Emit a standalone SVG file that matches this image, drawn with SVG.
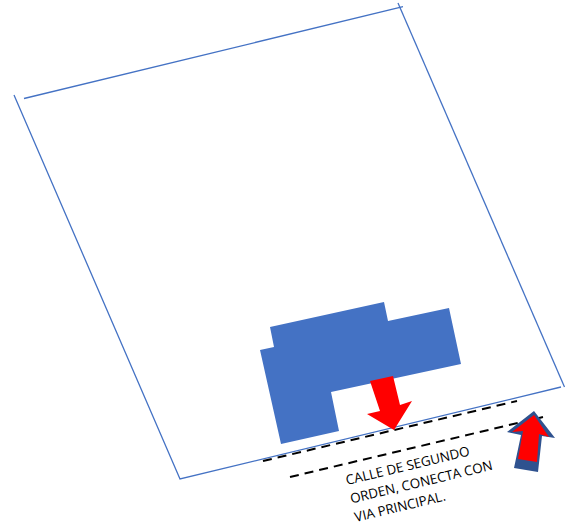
<svg xmlns="http://www.w3.org/2000/svg" width="568" height="526" viewBox="0 0 568 526">
<style>
.lot{fill:none;stroke:#4472c4;stroke-width:1.3}
.road{fill:none;stroke:#000;stroke-width:2;stroke-dasharray:9 6}
.label{font-family:"Open Sans",sans-serif;font-size:13.4px;fill:#000}
</style>
<rect width="568" height="526" fill="#fff"/>
<g id="connectors">
<path class="lot" d="M24 98.500L403 6.700"/>
<path class="lot" d="M398 3L564.500 387"/>
<path class="lot" d="M14 95L180 479L561 387"/>
<path class="road" d="M263 461L517 401"/>
<path class="road" d="M290 477L543 417"/>
</g>
<g id="building">
<polygon fill="#4472c4" points="270,327 384,302 388,321 449,308 461,364 331,392 339,431 281,444 260,350 274,347"/>
</g>
<g id="arrow-salida">
<polygon fill="#f00" points="370,381 393,376 400,405 412,401 394,430 367,414 380,411"/>
</g>
<g id="arrow-acceso">
<polygon fill="#2f528f" points="534,411 555,438 542,436 538,472 514,468 521,435 507,432"/>
<polygon fill="#f00" points="534,415 549,437 539,434 537,462 518,459 523,431 512,432"/>
</g>
<g id="label" class="label" transform="rotate(-13.500 347 485)">
<text x="347" y="485">CALLE DE SEGUNDO</text>
<text x="347" y="504">ORDEN, CONECTA CON</text>
<text x="347" y="523">VIA PRINCIPAL.</text>
</g>
</svg>
